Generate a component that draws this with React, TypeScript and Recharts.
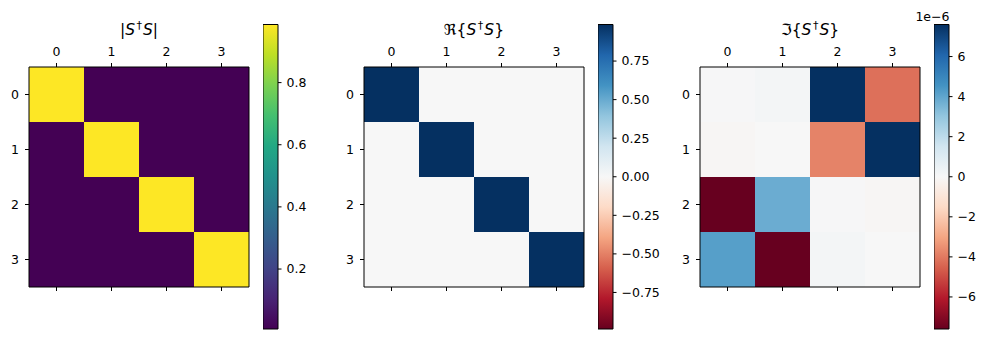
import React from "react";
import { BarChart, Bar, XAxis, YAxis, Cell } from "recharts";

// ---------- data ----------
const COLS = ["0", "1", "2", "3"];
const ROWS = ["0", "1", "2", "3"];

// |S†S|
const absMatrix: number[][] = [
  [0.987, 0.007, 0.007, 0.007],
  [0.007, 0.987, 0.007, 0.007],
  [0.007, 0.007, 0.987, 0.007],
  [0.007, 0.007, 0.007, 0.987],
];
// Re{S†S}
const reMatrix: number[][] = [
  [0.987, 0.0, 0.0, 0.0],
  [0.0, 0.987, 0.0, 0.0],
  [0.0, 0.0, 0.987, 0.0],
  [0.0, 0.0, 0.0, 0.987],
];
// Im{S†S}, in units of 1e-6
const imMatrix: number[][] = [
  [0.05, 0.15, 7.6, -4.2],
  [-0.1, 0.0, -3.8, 7.6],
  [-7.6, 3.8, 0.05, -0.1],
  [4.2, -7.6, 0.15, 0.0],
];

const absRange = [0.007, 0.987];
const reRange = [-0.987, 0.987];
const imRange = [-7.6, 7.6];

const absTicks = [0.2, 0.4, 0.6, 0.8];
const reTicks = [-0.75, -0.5, -0.25, 0, 0.25, 0.5, 0.75];
const imTicks = [-6, -4, -2, 0, 2, 4, 6];

// ---------- colormaps ----------
const VIRIDIS = [
  "#440154", "#482475", "#414487", "#355f8d", "#2a788e", "#21918c",
  "#22a884", "#44bf70", "#7ad151", "#bddf26", "#fde725",
];
const RDBU = [
  "#67001f", "#b2182b", "#d6604d", "#f4a582", "#fddbc7", "#f7f7f7",
  "#d1e5f0", "#92c5de", "#4393c3", "#2166ac", "#053061",
];

function hexToRgb(h: string) {
  return [1, 3, 5].map((i) => parseInt(h.slice(i, i + 2), 16));
}
function cmap(stops: string[], t: number) {
  const tt = Math.max(0, Math.min(1, t));
  const pos = tt * (stops.length - 1);
  const i = Math.min(stops.length - 2, Math.floor(pos));
  const f = pos - i;
  const a = hexToRgb(stops[i]);
  const b = hexToRgb(stops[i + 1]);
  const c = a.map((v, k) => Math.round(v + (b[k] - v) * f));
  return `rgb(${c[0]},${c[1]},${c[2]})`;
}

const FONT = "DejaVu Sans";
const tickStyle = { fill: "#000", fontSize: 12.5, fontFamily: FONT };
const lineStyle = { stroke: "#000", strokeWidth: 1 };
const noLabel = () => <g />;

const minus = (s: string) => s.replace("-", "\u2212");

function Heatmap({ left, matrix, stops, range }: any) {
  const data = COLS.map((c) => {
    const o: any = { col: c };
    ROWS.forEach((_, ri) => (o["r" + ri] = 1));
    return o;
  });
  const [vmin, vmax] = range;
  return (
    <div style={{ position: "absolute", left: left - 40, top: 0 }}>
      <BarChart
        width={270}
        height={339}
        data={data}
        margin={{ top: 37, left: 10, right: 9, bottom: 32 }}
        barCategoryGap={0}
        barGap={0}
      >
        <XAxis
          xAxisId="top"
          dataKey="col"
          orientation="top"
          height={30}
          tickSize={4}
          tickMargin={7}
          axisLine={lineStyle}
          tickLine={lineStyle}
          tick={tickStyle}
          interval={0}
        />
        <XAxis
          xAxisId="bot"
          dataKey="col"
          orientation="bottom"
          height={20}
          tickSize={4}
          axisLine={lineStyle}
          tickLine={lineStyle}
          tick={noLabel}
          interval={0}
        />
        <YAxis
          yAxisId="left"
          type="number"
          domain={[0, 4]}
          ticks={[0.5, 1.5, 2.5, 3.5]}
          tickFormatter={(v: number) => String(v - 0.5)}
          reversed
          width={30}
          tickSize={4}
          tickMargin={6}
          axisLine={lineStyle}
          tickLine={lineStyle}
          tick={tickStyle}
          interval={0}
        />
        <YAxis
          yAxisId="right"
          orientation="right"
          type="number"
          domain={[0, 4]}
          ticks={[0.5, 1.5, 2.5, 3.5]}
          reversed
          width={1}
          tick={noLabel}
          tickLine={false}
          axisLine={lineStyle}
        />
        {ROWS.map((_, ri) => (
          <Bar
            key={ri}
            xAxisId="top"
            yAxisId="left"
            dataKey={"r" + ri}
            stackId="s"
            isAnimationActive={false}
            shapeRendering="crispEdges"
          >
            {COLS.map((_c, ci) => (
              <Cell
                key={ci}
                fill={cmap(stops, (matrix[ri][ci] - vmin) / (vmax - vmin))}
              />
            ))}
          </Bar>
        ))}
      </BarChart>
    </div>
  );
}

function Colorbar({ left, gradId, range, ticks, fmt }: any) {
  const [vmin, vmax] = range;
  const data = [{ k: "cb", v: [vmin, vmax] }];
  return (
    <div style={{ position: "absolute", left, top: 0 }}>
      <BarChart
        width={75}
        height={339}
        data={data}
        margin={{ top: 24.5, bottom: 10, left: 0, right: 0 }}
        barCategoryGap={0}
      >
        <XAxis dataKey="k" hide />
        <YAxis
          orientation="right"
          type="number"
          domain={[vmin, vmax]}
          ticks={ticks}
          tickFormatter={fmt}
          width={60}
          tickSize={3.5}
          tickMargin={5}
          axisLine={false}
          tickLine={lineStyle}
          tick={tickStyle}
          interval={0}
        />
        <Bar
          dataKey="v"
          fill={`url(#${gradId})`}
          stroke="#000"
          strokeWidth={1}
          isAnimationActive={false}
        />
      </BarChart>
    </div>
  );
}

function Title({ x, prefix, open, close }: any) {
  return (
    <text
      x={x}
      y={35}
      textAnchor="middle"
      fontFamily={FONT}
      fontSize={15.5}
      fill="#000"
    >
      <tspan>{prefix}{open}</tspan>
      <tspan fontStyle="italic">S</tspan>
      <tspan fontSize={11} dy={-6} dx={1.5}>†</tspan>
      <tspan fontStyle="italic" dy={6} dx={1}>S</tspan>
      <tspan>{close}</tspan>
    </text>
  );
}

export default function App() {
  const grad = (id: string, stops: string[]) => (
    <linearGradient id={id} x1="0" y1="1" x2="0" y2="0">
      {stops.map((c, i) => (
        <stop key={i} offset={i / (stops.length - 1)} stopColor={c} />
      ))}
    </linearGradient>
  );
  return (
    <div
      style={{
        position: "absolute",
        left: 0,
        top: 0,
        width: 989,
        height: 339,
        background: "#fff",
        overflow: "hidden",
      }}
    >
      <svg width={0} height={0} style={{ position: "absolute" }}>
        <defs>
          {grad("g-viridis", VIRIDIS)}
          {grad("g-rdbu", RDBU)}
        </defs>
      </svg>

      <Heatmap left={29} matrix={absMatrix} stops={VIRIDIS} range={absRange} />
      <Colorbar
        left={263}
        gradId="g-viridis"
        range={absRange}
        ticks={absTicks}
        fmt={(v: number) => v.toFixed(1)}
      />

      <Heatmap left={364} matrix={reMatrix} stops={RDBU} range={reRange} />
      <Colorbar
        left={598}
        gradId="g-rdbu"
        range={reRange}
        ticks={reTicks}
        fmt={(v: number) => minus(v.toFixed(2))}
      />

      <Heatmap left={700} matrix={imMatrix} stops={RDBU} range={imRange} />
      <Colorbar
        left={934}
        gradId="g-rdbu"
        range={imRange}
        ticks={imTicks}
        fmt={(v: number) => minus(String(v))}
      />

      <svg
        width={989}
        height={339}
        style={{ position: "absolute", left: 0, top: 0, pointerEvents: "none" }}
      >
        <Title x={139} prefix="" open="|" close="|" />
        <Title x={474} prefix={"\u211C"} open="{" close="}" />
        <Title x={810} prefix={"\u2111"} open="{" close="}" />
        <text
          x={949.5}
          y={20.5}
          textAnchor="end"
          fontFamily={FONT}
          fontSize={12.5}
          fill="#000"
        >
          1e{"\u2212"}6
        </text>
      </svg>
    </div>
  );
}
